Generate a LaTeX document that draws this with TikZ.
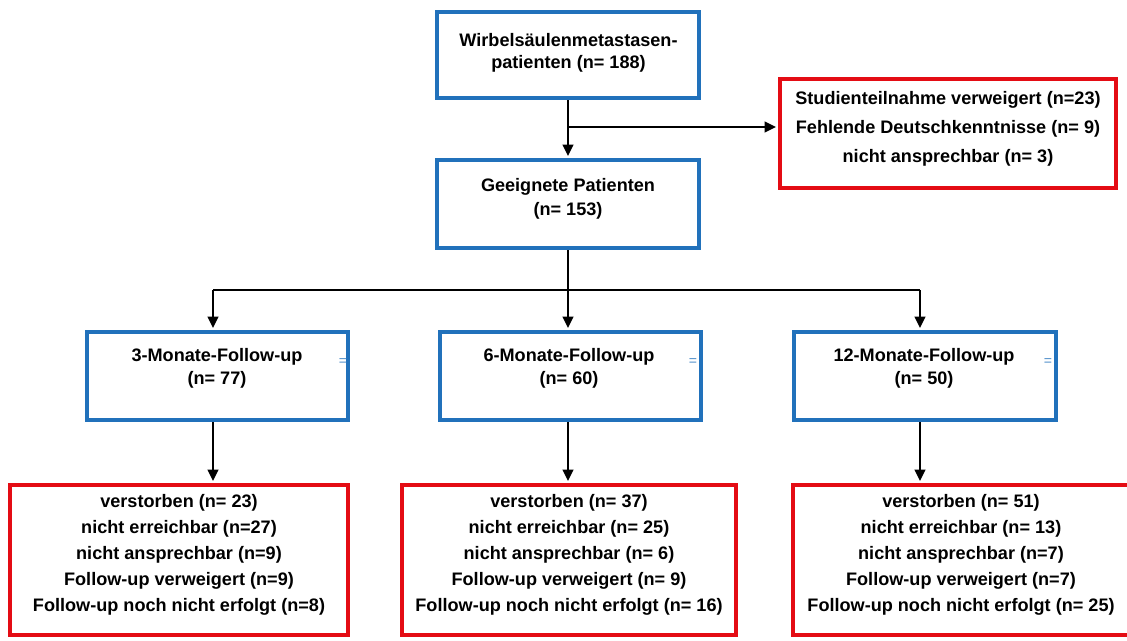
\documentclass[tikz,border=0pt]{standalone}
\usepackage{fontspec}
\setmainfont{Liberation Sans}
\definecolor{boxblue}{RGB}{33, 113, 187}
\definecolor{boxred}{RGB}{228, 12, 20}
\usetikzlibrary{arrows.meta, positioning, calc}

\begin{document}
\begin{tikzpicture}[
        x=0.02cm, y=-0.02cm,
        bluebox/.style={rectangle, draw=boxblue, line width=2.3pt, minimum height=1.76cm},
        redbox/.style={rectangle, draw=boxred, line width=2.3pt},
        txt/.style={align=center, inner sep=0pt, font=\fontsize{10.3}{13}\selectfont\bfseries},
        redtxt/.style={txt, font=\fontsize{10.3}{14.8}\selectfont\bfseries},
        stray/.style={inner sep=0pt, text=boxblue!80, font=\fontsize{8}{8}\selectfont},
        arrow/.style={-{Triangle[length=6.5pt, width=6pt]}, line width=1.25pt, shorten >=1.1pt},
        link/.style={line width=1.25pt}
    ]
        \clip (0,0) rectangle (1127,640);

        % Start
        \node[bluebox, minimum width=5.26cm, minimum height=1.72cm] (all) at (568,55) {};
        \node[txt, font=\fontsize{10.3}{12.5}\selectfont\bfseries] (alltxt) at (568.5,53)
            {Wirbelsäulenmetastasen-\\patienten (n= 188)};

        % Eligible
        \node[bluebox, minimum width=5.26cm] (elig) at (568,204) {};
        \node[txt, font=\fontsize{10.3}{13.6}\selectfont\bfseries] (eligtxt) at (568,199)
            {Geeignete Patienten\\(n= 153)};
        \draw[arrow] (all) -- (elig);

        % Excluded
        \node[redbox, minimum width=6.72cm, minimum height=2.18cm] (excl) at (948,133.5) {};
        \node[redtxt, font=\fontsize{10.3}{16.6}\selectfont\bfseries] (excltxt) at (948,129)
            {Studienteilnahme verweigert (n=23)\\
             Fehlende Deutschkenntnisse (n= 9)\\
             nicht ansprechbar (n= 3)};
        \coordinate (split1) at (568,127);
        \draw[arrow] (split1) -- (excl.west |- split1);

        % Follow-up boxes
        \node[bluebox, minimum width=5.22cm] (fu3) at (217.5,376) {};
        \node[txt] (fu3txt) at (217,368.5) {3-Monate-Follow-up\\(n= 77)};
        \node[stray] (fu3eq) at (343,362) {=};

        \node[bluebox, minimum width=5.22cm] (fu6) at (570.5,376) {};
        \node[txt] (fu6txt) at (569,368.5) {6-Monate-Follow-up\\(n= 60)};
        \node[stray] (fu6eq) at (693,362) {=};

        \node[bluebox, minimum width=5.24cm] (fu12) at (925,376) {};
        \node[txt] (fu12txt) at (924,368.5) {12-Monate-Follow-up\\(n= 50)};
        \node[stray] (fu12eq) at (1048,362) {=};

        % Branching
        \coordinate (split2) at (568,290);
        \coordinate (colA) at (213,290);
        \coordinate (colB) at (568,290);
        \coordinate (colC) at (920,290);
        \draw[link] (elig) -- (split2);
        \draw[link] (colA) -- (colC);
        \draw[arrow] (colA) -- (colA |- fu3.north);
        \draw[arrow] (colB) -- (colB |- fu6.north);
        \draw[arrow] (colC) -- (colC |- fu12.north);

        % Drop-outs
        \node[redbox, minimum width=6.76cm, minimum height=3.0cm] (out3) at (179,560) {};
        \node[redtxt] (out3txt) at (179,555)
            {verstorben (n= 23)\\
             nicht erreichbar (n=27)\\
             nicht ansprechbar (n=9)\\
             Follow-up verweigert (n=9)\\
             Follow-up noch nicht erfolgt (n=8)};

        \node[redbox, minimum width=6.68cm, minimum height=3.0cm] (out6) at (569,560) {};
        \node[redtxt] (out6txt) at (569,555)
            {verstorben (n= 37)\\
             nicht erreichbar (n= 25)\\
             nicht ansprechbar (n= 6)\\
             Follow-up verweigert (n= 9)\\
             Follow-up noch nicht erfolgt (n= 16)};

        \node[redbox, minimum width=6.72cm, minimum height=3.0cm] (out12) at (961,560) {};
        \node[redtxt] (out12txt) at (961,555)
            {verstorben (n= 51)\\
             nicht erreichbar (n= 13)\\
             nicht ansprechbar (n=7)\\
             Follow-up verweigert (n=7)\\
             Follow-up noch nicht erfolgt (n= 25)};

        \draw[arrow] (fu3.south -| colA) -- (out3.north -| colA);
        \draw[arrow] (fu6.south -| colB) -- (out6.north -| colB);
        \draw[arrow] (fu12.south -| colC) -- (out12.north -| colC);
    \end{tikzpicture}
\end{document}
